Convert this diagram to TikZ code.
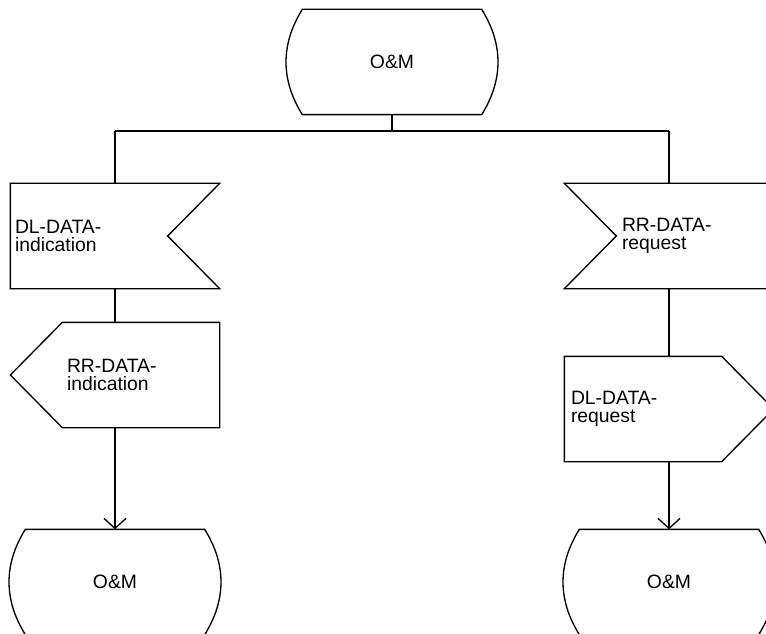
\documentclass[tikz,border=0pt]{standalone}
\usepackage{fontspec}
\setmainfont{Liberation Sans}
\usetikzlibrary{calc,arrows.meta}

\tikzset{
  sdlfont/.style={font=\fontsize{14.5}{13.2}\selectfont},
  frame/.style={minimum width=156pt, minimum height=78pt, inner sep=0pt},
  lbl/.style={sdlfont, align=left, anchor=west, inner sep=0pt},
  flowarrow/.style={-{Straight Barb[length=7.5pt,width=16.5pt]}},
}

% contour d'un etat SDL autour d'un noeud
\newcommand{\drawstate}[1]{%
  \draw ($(#1.north west)+(15,0)$) -- ($(#1.north east)+(-15,0)$)
    to[bend left=32] ($(#1.south east)+(-15,0)$) -- ($(#1.south west)+(15,0)$)
    to[bend left=32] ($(#1.north west)+(15,0)$) -- cycle;}

\begin{document}
\begin{tikzpicture}[x=0.75pt, y=-0.75pt, line width=1pt]
    \useasboundingbox (0,0) rectangle (766,634);

    % Etat de depart
    \node[frame, sdlfont] (om) at (392,62) {O\&M};
    \drawstate{om}
    \coordinate (jn) at (392,131);
    \coordinate (jl) at (115,131);
    \coordinate (jr) at (669,131);

    % Branche gauche
    \node[frame] (dli) at (115,236) {};
    \draw (dli.north west) -- (dli.north east) -- ($(dli.east)+(-52,0)$)
        -- (dli.south east) -- (dli.south west) -- cycle;
    \node[lbl] (dli-txt) at ($(dli.west)+(4,0)$) {DL-DATA-\\indication};

    \node[frame] (rri) at (115,375) {};
    \draw (rri.west) -- ($(rri.north west)+(52,0)$) -- (rri.north east)
        -- (rri.south east) -- ($(rri.south west)+(52,0)$) -- cycle;
    \node[lbl] (rri-txt) at ($(rri.west)+(56,0)$) {RR-DATA-\\indication};

    \node[frame, sdlfont] (oml) at (115,582) {O\&M};
    \drawstate{oml}

    % Branche droite
    \node[frame] (rrr) at (669,236) {};
    \draw (rrr.north west) -- (rrr.north east) -- (rrr.south east)
        -- (rrr.south west) -- ($(rrr.west)+(52,0)$) -- cycle;
    \node[lbl] (rrr-txt) at ($(rrr.west)+(57,0)$) {RR-DATA-\\request};

    \node[frame] (dlr) at (669,409) {};
    \draw (dlr.north west) -- ($(dlr.north east)+(-52,0)$) -- (dlr.east)
        -- ($(dlr.south east)+(-52,0)$) -- (dlr.south west) -- cycle;
    \node[lbl] (dlr-txt) at ($(dlr.west)+(6,0)$) {DL-DATA-\\request};

    \node[frame, sdlfont] (omr) at (669,582) {O\&M};
    \drawstate{omr}

    % Liaisons
    \draw (om.south) -- (jn);
    \draw (jl) -- (jr);
    \draw (jl) -- (dli.north);
    \draw (jr) -- (rrr.north);
    \draw (dli.south) -- (rri.north);
    \draw[flowarrow] (rri.south) -- (oml.north);
    \draw (rrr.south) -- (dlr.north);
    \draw[flowarrow] (dlr.south) -- (omr.north);
\end{tikzpicture}
\end{document}
